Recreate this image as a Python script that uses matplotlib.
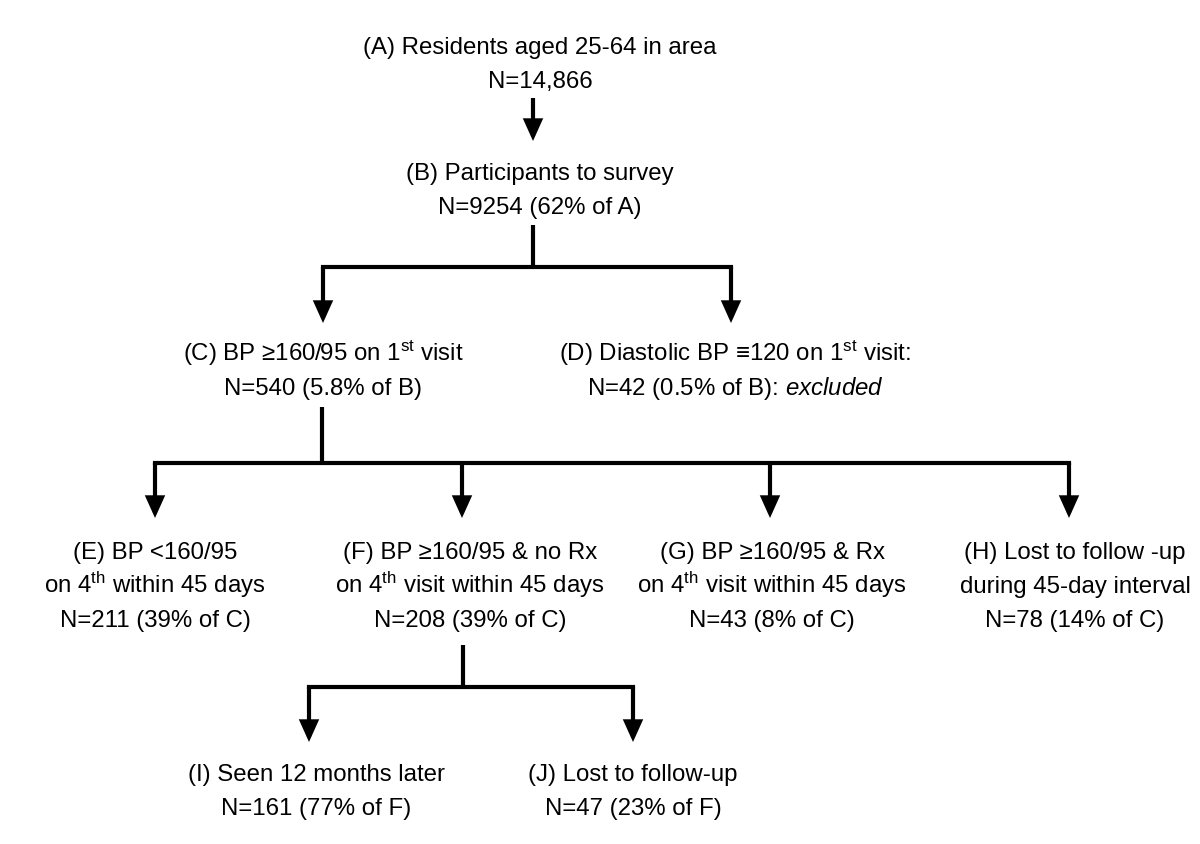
import matplotlib
matplotlib.use('Agg')
import matplotlib.pyplot as plt
from matplotlib import font_manager
from matplotlib.patches import FancyArrowPatch

# ---------------- data ----------------
node_ids = ['A', 'B', 'C', 'D', 'E', 'F', 'G', 'H', 'I', 'J']
node_desc = [
    ['Residents aged 25-64 in area'],
    ['Participants to survey'],
    [r'BP ≥160/95 on 1$^{\mathregular{st}}$ visit'],
    [r'Diastolic BP ≡120 on 1$^{\mathregular{st}}$ visit:'],
    ['BP <160/95', r'on 4$^{\mathregular{th}}$ within 45 days'],
    ['BP ≥160/95 & no Rx', r'on 4$^{\mathregular{th}}$ visit within 45 days'],
    ['BP ≥160/95 & Rx', r'on 4$^{\mathregular{th}}$ visit within 45 days'],
    ['Lost to follow -up', 'during 45-day interval'],
    ['Seen 12 months later'],
    ['Lost to follow-up'],
]
counts = [14866, 9254, 540, 42, 211, 208, 43, 78, 161, 47]
pct_of_parent = [None, 62, 5.8, 0.5, 39, 39, 8, 14, 77, 23]
parents = [None, 'A', 'B', 'B', 'C', 'C', 'C', 'C', 'F', 'F']
suffix = ['', '', '', r': $\mathit{excluded}$', '', '', '', '', '', '']

# ---------------- layout (pixels, y from top) ----------------
LAYOUT = {'A': (540, 45), 'B': (540, 171), 'C': (323, 352), 'D': (735, 352),
          'E': (155, 550), 'F': (470, 550), 'G': (772, 550), 'H': (1075, 550),
          'I': (316, 772), 'J': (633, 772)}
LINE_H = 34
# connectors: parent -> (stem x, stem top, bar y, child arrow xs, tip y)
CONNECT = {
    'B': (533, 225, 267, {'C': 323, 'D': 731}, 323),
    'C': (322, 407, 463, {'E': 155, 'F': 462, 'G': 770, 'H': 1069}, 518),
    'F': (463, 645, 687, {'I': 309, 'J': 633}, 742),
}

# ---------------- fonts ----------------
fam = 'Liberation Sans'
FS = 17.3
for cand in ['Liberation Sans Narrow', 'Arial Narrow']:
    try:
        font_manager.findfont(cand, fallback_to_default=False)
        fam = cand
        FS = 18.5
        break
    except Exception:
        pass
plt.rcParams['font.family'] = [fam, 'DejaVu Sans']
plt.rcParams['mathtext.fontset'] = 'custom'
plt.rcParams['mathtext.rm'] = fam
plt.rcParams['mathtext.it'] = fam + ':italic'

fig = plt.figure(figsize=(12, 8.44), dpi=100)
ax = fig.add_axes([0, 0, 1, 1])
ax.set_xlim(0, 1200)
ax.set_ylim(844, 0)
ax.axis('off')

LW = 3.0

def fmt_n(n):
    return f'{n:,}' if n >= 10000 else str(n)

for i, nid in enumerate(node_ids):
    lines = list(node_desc[i])
    lines[0] = f'({nid}) ' + lines[0]
    nline = 'N=' + fmt_n(counts[i])
    if pct_of_parent[i] is not None:
        nline += f' ({pct_of_parent[i]:g}% of {parents[i]})'
    nline += suffix[i]
    lines.append(nline)
    cx, cy = LAYOUT[nid]
    for k, ln in enumerate(lines):
        ax.text(cx, cy + k * LINE_H + 9, ln, ha='center', va='baseline',
                fontsize=FS, color='black')

def arrow(x, y0, y1):
    p = FancyArrowPatch((x, y0), (x, y1),
                        arrowstyle='-|>,head_length=0.8,head_width=0.36',
                        mutation_scale=14, lw=LW, color='black',
                        shrinkA=0, shrinkB=0, joinstyle='miter',
                        capstyle='butt')
    ax.add_patch(p)

# A -> B simple arrow
arrow(533, 98, 141)

for par, (sx, sy0, by, kids, tip) in CONNECT.items():
    ax.plot([sx, sx], [sy0, by], color='black', lw=LW, solid_capstyle='butt')
    xs = list(kids.values())
    ax.plot([min(xs), max(xs)], [by, by], color='black', lw=LW,
            solid_capstyle='projecting')
    for kx in xs:
        arrow(kx, by, tip)

fig.savefig('out.png', dpi=100, facecolor='white')
